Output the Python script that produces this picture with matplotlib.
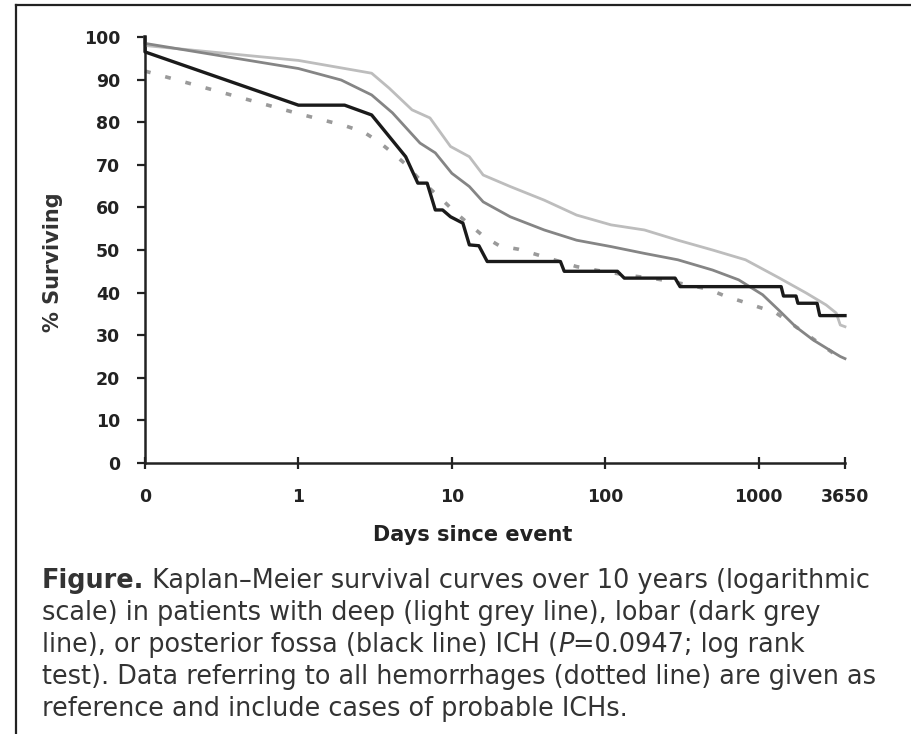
import numpy as np
import matplotlib
matplotlib.use("Agg")
import matplotlib.pyplot as plt
from matplotlib.lines import Line2D

# Kaplan-Meier curves (days since event, % surviving)
deep_days = [0, 0, 1, 3, 3.9, 5.5, 7.2, 9.8, 13, 16, 24, 40, 65, 109, 180, 297,
             500, 820, 1350, 2040, 2750, 3200, 3400, 3650]
deep_pct = [100, 98, 94.5, 91.5, 88, 82.9, 81, 74.3, 71.9, 67.6, 64.9, 61.7, 58.2,
            55.9, 54.7, 52.3, 50, 47.7, 43.5, 39.9, 37.1, 35.2, 32.4, 32]

lobar_days = [0, 0, 1, 1.9, 3, 4.1, 6.2, 7.8, 10, 13, 16, 24, 40, 65, 109, 180,
              297, 500, 740, 1060, 1350, 1740, 2260, 2900, 3400, 3650]
lobar_pct = [100, 98.5, 92.6, 89.9, 86.4, 82.2, 75.1, 72.8, 68, 64.9, 61.3, 57.8,
             54.7, 52.3, 50.8, 49.2, 47.7, 45.3, 43, 39.5, 35.9, 32, 28.9, 26.5,
             25, 24.5]

fossa_days = [0, 0, 1, 2, 3, 5, 6, 6.9, 7.8, 8.7, 9.8, 11.8, 13, 15, 17, 51, 54,
              120, 133, 285, 307, 1400, 1450, 1750, 1800, 2400, 2500, 3650]
fossa_pct = [100, 96.5, 84, 84, 81.7, 71.9, 65.7, 65.7, 59.4, 59.4, 57.8, 56.3,
             51.2, 51, 47.3, 47.3, 45, 45, 43.4, 43.4, 41.4, 41.4, 39.2, 39.2,
             37.5, 37.5, 34.6, 34.6]

all_days = [0, 1, 2, 2.66, 3.34, 4.1, 4.9, 6, 8.7, 10.7, 13.1, 16, 20.6, 27, 36.7,
            65, 89, 151, 200, 270, 347, 470, 603, 780, 1000, 1290, 2000, 3000, 3650]
all_pct = [92, 82, 79.2, 77.7, 75.4, 72.8, 70.4, 67, 61.7, 58.6, 55.9, 53.3, 50.9,
           50.2, 48.8, 46.1, 45.2, 43.9, 43.4, 42.6, 41.8, 40.8, 39.2, 37.9, 36.6,
           35.3, 30.5, 26, 24]

x_ticks = [0, 1, 10, 100, 1000, 3650]
y_ticks = list(range(0, 101, 10))

day0_pos = 0.1  # day 0 is drawn one decade left of day 1


def to_pos(days):
    d = np.asarray(days, dtype=float)
    return np.where(d == 0, day0_pos, d)


fig = plt.figure(figsize=(9.12, 7.34), dpi=100)
ax = fig.add_axes([145 / 912, 1 - 463 / 734, 700 / 912, 426 / 734])

ax.plot(to_pos(all_days), all_pct, color="#9a9a9a", lw=2.6,
        linestyle=(0, (1.6, 4.2)), clip_on=False, zorder=2)
ax.plot(to_pos(deep_days), deep_pct, color="#bdbdbd", lw=2.0, clip_on=False, zorder=3)
ax.plot(to_pos(lobar_days), lobar_pct, color="#858585", lw=2.0, clip_on=False, zorder=4)
ax.plot(to_pos(fossa_days), fossa_pct, color="#1a1a1a", lw=2.4, clip_on=False, zorder=5)

ax.set_xscale("log")
ax.set_xlim(day0_pos, 3650)
ax.set_ylim(0, 100)
ax.set_xticks(to_pos(x_ticks))
ax.set_xticklabels([str(t) for t in x_ticks])
ax.xaxis.set_minor_locator(matplotlib.ticker.NullLocator())
ax.set_yticks(y_ticks)

for side in ["top", "right"]:
    ax.spines[side].set_visible(False)
for side in ["left", "bottom"]:
    ax.spines[side].set_linewidth(1.8)
    ax.spines[side].set_color("#222222")

tick_font = dict(family="DejaVu Sans", weight="bold", size=12.5)
ax.tick_params(axis="y", direction="out", length=6, width=1.6, pad=12,
               colors="#222222")
ax.tick_params(axis="x", direction="inout", length=8, width=1.6, pad=14,
               colors="#222222")
for lab in ax.get_xticklabels() + ax.get_yticklabels():
    lab.set_fontproperties(matplotlib.font_manager.FontProperties(**tick_font))

fig.text(473 / 912, 1 - 535 / 734, "Days since event", ha="center", va="center",
         fontsize=15, fontweight="bold", family="DejaVu Sans", color="#222222")
fig.text(53 / 912, 1 - 262 / 734, "% Surviving", ha="center", va="center",
         rotation=90, fontsize=15, fontweight="bold", family="DejaVu Sans",
         color="#333333")

# frame around the figure (top and left edges only)
fig.add_artist(Line2D([16 / 912, 1], [1 - 5 / 734, 1 - 5 / 734], color="#222222",
                      lw=1.6, transform=fig.transFigure))
fig.add_artist(Line2D([16 / 912, 16 / 912], [0, 1 - 5 / 734], color="#222222",
                      lw=1.6, transform=fig.transFigure))

# caption
caption = [
    [("Figure.", "bold", "normal"),
     (" Kaplan\u2013Meier survival curves over 10 years (logarithmic", "normal", "normal")],
    [("scale) in patients with deep (light grey line), lobar (dark grey", "normal", "normal")],
    [("line), or posterior fossa (black line) ICH (", "normal", "normal"),
     ("P", "normal", "italic"),
     ("=0.0947; log rank", "normal", "normal")],
    [("test). Data referring to all hemorrhages (dotted line) are given as", "normal", "normal")],
    [("reference and include cases of probable ICHs.", "normal", "normal")],
]
cap_base = [588, 620, 652, 684, 716]

fig.canvas.draw()
renderer = fig.canvas.get_renderer()
for line, yy in zip(caption, cap_base):
    x = 42
    for txt, wt, st in line:
        t = fig.text(x / 912, 1 - yy / 734, txt, ha="left", va="baseline",
                     fontsize=18.4, fontweight=wt, fontstyle=st,
                     family="DejaVu Sans", color="#333333")
        bb = t.get_window_extent(renderer=renderer)
        x += bb.width

fig.savefig("out.png", dpi=100)
